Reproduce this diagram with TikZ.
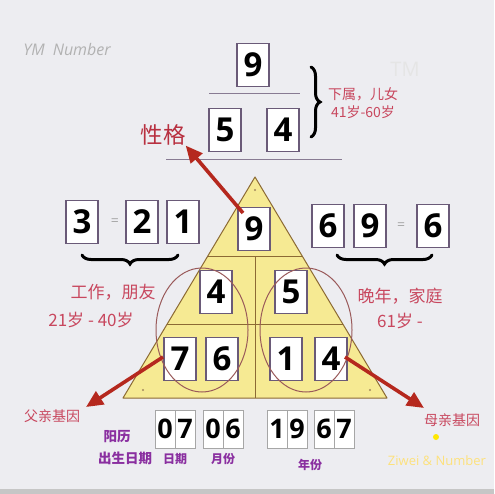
\documentclass[tikz,border=0pt]{standalone}
\usepackage{fontspec}
\setmainfont{Open Sans}
\newfontfamily\cjk{Noto Sans CJK SC}
\newfontfamily\dig{Open Sans}
\usetikzlibrary{decorations.pathreplacing,arrows.meta}
\definecolor{bg}{HTML}{EDEDF1}
\definecolor{tri}{HTML}{F6EA93}
\definecolor{triedge}{HTML}{8C6A34}
\definecolor{boxedge}{HTML}{6A5A78}
\definecolor{arrowred}{HTML}{B5281E}
\definecolor{lblred}{HTML}{C8475E}
\definecolor{titred}{HTML}{B83040}
\definecolor{lblpurple}{HTML}{8A2FA0}
\definecolor{ring}{HTML}{9A5A5A}
\begin{document}
\begin{tikzpicture}[x=1pt,y=-1pt,
  numbox/.style={draw=boxedge,fill=white,line width=1.2pt,minimum width=32pt,minimum height=43pt,inner sep=0pt,font=\dig\bfseries\fontsize{33}{33}\selectfont},
  cell/.style={draw=gray!70,fill=white,line width=0.9pt,minimum width=20pt,minimum height=38pt,inner sep=0pt,font=\dig\bfseries\fontsize{27}{27}\selectfont},
  bigarrow/.style={arrowred,line width=3.6pt,-{Triangle[length=17pt,width=15pt]}},
  brc/.style={decorate,decoration={brace,amplitude=9pt},line width=3pt,line cap=round},
  redlbl/.style={text=lblred,font=\cjk\fontsize{17}{20}\selectfont,inner sep=0pt},
  purlbl/.style={text=lblpurple,font=\cjk\bfseries\fontsize{13.5}{16}\selectfont,inner sep=0pt},
  rule/.style={draw=boxedge!80,line width=1pt}]
\useasboundingbox (0,0) rectangle (494,494);
\fill[bg] (0,0) rectangle (494,494);
\fill[gray!45] (0,489) rectangle (494,494);

% watermark texts
\node[text=gray!60,font=\itshape\fontsize{16}{16}\selectfont,inner sep=0pt] (ym) at (67,50) {YM\enspace Number};
\node[text=gray!20,font=\fontsize{20}{20}\selectfont,inner sep=0pt] (tm) at (405,69) {TM};

% top section
\node[numbox] (t9) at (253,65) {9};
\draw[rule] (209,94) -- (300,94);
\node[numbox] (t5) at (225,130) {5};
\node[numbox] (t4) at (283,130) {4};
\draw[rule] (166,160) -- (342,160);
\draw[brc] (311,67) -- (311,137);
\node[redlbl,font=\cjk\fontsize{14}{16}\selectfont,align=center] (sub) at (363,103) {下属，儿女\\[2pt]41岁-60岁};
\node[text=titred,font=\cjk\fontsize{22.5}{24}\selectfont,inner sep=0pt] (xg) at (163,135) {性格};

% triangle
\fill[tri] (255,177) -- (387,398) -- (123,398) -- cycle;
\draw[triedge,line width=1pt,line join=round] (255,177) -- (387,398) -- (123,398) -- cycle;
\draw[triedge,line width=1pt] (207.8,256) -- (302.2,256);
\draw[triedge,line width=1pt] (167.2,324) -- (342.8,324);
\draw[triedge,line width=1pt] (255,256) -- (255,398);
\fill[triedge!80] (255,190) circle (1.2);
\fill[triedge!80] (143,390) circle (1.2);
\fill[triedge!80] (370,390) circle (1.2);

\node[numbox] (p9) at (254,229) {9};
\node[numbox] (p4) at (216,292) {4};
\node[numbox] (p5) at (291,292) {5};
\node[numbox] (p7) at (180,359) {7};
\node[numbox] (p6) at (222,359) {6};
\node[numbox] (p1) at (286,359) {1};
\node[numbox] (p4b) at (331,359) {4};

\draw[ring,line width=1pt] (202,330) ellipse (46 and 62);
\draw[ring,line width=1pt] (306,330) ellipse (46 and 62);

% left group
\node[numbox] (l3) at (82,222) {3};
\node[text=gray!70,font=\fontsize{14}{14}\selectfont,inner sep=0pt] (leq) at (115,222) {=};
\node[numbox] (l2) at (142,222) {2};
\node[numbox] (l1) at (183,222) {1};
\draw[brc] (178,255) -- (82,255);
\node[redlbl] (work) at (113,292) {工作，朋友};
\node[redlbl] (age1) at (91,320) {21岁 - 40岁};

% right group
\node[numbox] (r6) at (328,226) {6};
\node[numbox] (r9) at (370,226) {9};
\node[text=gray!70,font=\fontsize{14}{14}\selectfont,inner sep=0pt] (req) at (401,226) {=};
\node[numbox] (r6b) at (433,226) {6};
\draw[brc] (432,255) -- (337,255);
\node[redlbl] (late) at (400,296) {晚年，家庭};
\node[redlbl] (age3) at (400,321) {61岁 -};

% arrows
\coordinate (a1s) at (243,213);
\draw[bigarrow] (a1s) -- (xg.south east);
\coordinate (a2s) at (163,357);
\coordinate (a2e) at (86,407);
\draw[bigarrow] (a2s) -- (a2e);
\coordinate (a3s) at (345,357);
\coordinate (a3e) at (424,408);
\draw[bigarrow] (a3s) -- (a3e);

\node[redlbl,font=\cjk\fontsize{14}{16}\selectfont] (fa) at (52,416) {父亲基因};
\node[redlbl,font=\cjk\fontsize{14}{16}\selectfont] (mo) at (452,420) {母亲基因};

% dates
\node[cell] (d0) at (165,429) {0};
\node[cell] (d7) at (185,429) {7};
\node[cell] (m0) at (213,429) {0};
\node[cell] (m6) at (233,429) {6};
\node[cell] (y1) at (277,429) {1};
\node[cell] (y9) at (297,429) {9};
\node[cell] (y6) at (324,429) {6};
\node[cell] (y7) at (344,429) {7};

\node[purlbl] (yl) at (117,437) {阳历};
\node[purlbl] (bd) at (125,458) {出生日期};
\node[purlbl,font=\cjk\bfseries\fontsize{12}{14}\selectfont] (dl) at (175,459) {日期};
\node[purlbl,font=\cjk\bfseries\fontsize{12}{14}\selectfont] (ml) at (223,459) {月份};
\node[purlbl,font=\cjk\bfseries\fontsize{12}{14}\selectfont] (yrl) at (310,465) {年份};

% corner mark
\fill[yellow!90!orange] (436,437) circle (3);
\node[text=yellow!60!orange!50,font=\fontsize{13}{13}\selectfont,inner sep=0pt] (zw) at (437,461) {Ziwei \& Number};
\end{tikzpicture}
\end{document}
